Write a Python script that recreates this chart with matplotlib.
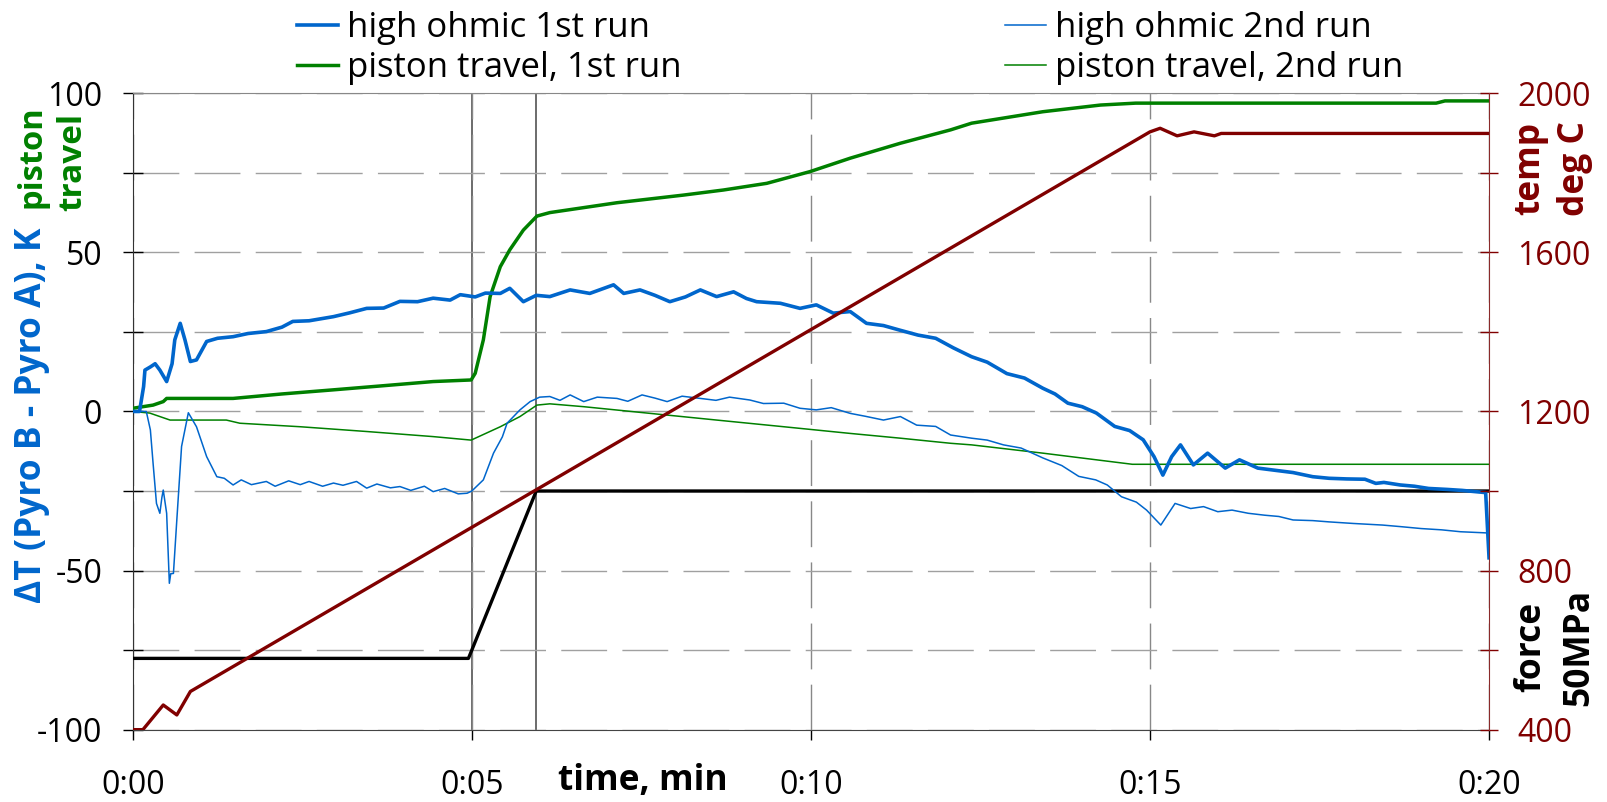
import numpy as np
import matplotlib
matplotlib.use("Agg")
import matplotlib.pyplot as plt

plt.rcParams['font.family'] = ['Open Sans', 'DejaVu Sans']
plt.rcParams['axes.unicode_minus'] = False

# time in minutes
hi1 = [(0, 0), (0.1, 0), (0.16, 7.8), (0.18, 13), (0.26, 14), (0.33, 15), (0.4, 13),
       (0.5, 9.4), (0.58, 15), (0.62, 22.5), (0.7, 27.7), (0.77, 22.5), (0.85, 15.7),
       (0.94, 16.2), (1.09, 22), (1.25, 23), (1.48, 23.5), (1.7, 24.5), (1.97, 25.1),
       (2.2, 26.5), (2.36, 28.3), (2.6, 28.5), (2.96, 29.8), (3.2, 31), (3.45, 32.4),
       (3.7, 32.5), (3.94, 34.6), (4.2, 34.5), (4.43, 35.6), (4.68, 35), (4.83, 36.7),
       (5.05, 36), (5.2, 37.2), (5.42, 37.1), (5.56, 38.7), (5.76, 34.5), (5.95, 36.5),
       (6.15, 36.1), (6.45, 38.2), (6.74, 37.1), (7.09, 39.8), (7.24, 37.1), (7.48, 38.2),
       (7.7, 36.5), (7.92, 34.5), (8.15, 36), (8.37, 38.2), (8.61, 36.1), (8.86, 37.6),
       (9.05, 35.5), (9.2, 34.5), (9.55, 34), (9.84, 32.4), (10.08, 33.5), (10.33, 30.9),
       (10.58, 31.4), (10.82, 27.7), (11.07, 27), (11.32, 25.5), (11.58, 24), (11.84, 23),
       (12.1, 20), (12.37, 17.2), (12.6, 15.5), (12.89, 11.9), (13.15, 10.5), (13.42, 7.3),
       (13.6, 5.5), (13.79, 2.6), (14.0, 1.5), (14.21, -0.5), (14.48, -4.7), (14.7, -6),
       (14.9, -8.9), (15.06, -14.2), (15.19, -20), (15.32, -14.2), (15.45, -10.5),
       (15.64, -16.8), (15.85, -13.1), (16.11, -17.8), (16.32, -15.2), (16.59, -17.8),
       (16.85, -18.5), (17.11, -19.2), (17.4, -20.5), (17.64, -21), (17.9, -21.2),
       (18.17, -21.3), (18.33, -22.6), (18.45, -22.3), (18.69, -23.1), (18.9, -23.5),
       (19.11, -24.2), (19.38, -24.5), (19.6, -24.8), (19.95, -25.5), (20.0, -46)]

hi2 = [(0, 0), (0.2, 0), (0.26, -5.8), (0.3, -16.3), (0.35, -28.9), (0.4, -32), (0.43, -27),
       (0.45, -24.7), (0.5, -32), (0.54, -54), (0.56, -51), (0.6, -50.9), (0.65, -34.1),
       (0.72, -11), (0.82, -0.4), (0.94, -4.8), (1.09, -14.2), (1.24, -20.5), (1.35, -21),
       (1.48, -23.1), (1.6, -21.5), (1.75, -23), (1.97, -22), (2.1, -23.5), (2.3, -21.8),
       (2.47, -23), (2.6, -22), (2.8, -23.5), (2.96, -22.5), (3.1, -23.2), (3.3, -22),
       (3.45, -24.1), (3.6, -22.8), (3.8, -24), (3.94, -23.6), (4.1, -24.8), (4.3, -23.5),
       (4.43, -25.2), (4.6, -24.2), (4.8, -25.9), (4.93, -25.7), (5.0, -25), (5.17, -21.5),
       (5.32, -13.1), (5.45, -8), (5.52, -3.7), (5.71, 0.5), (5.86, 3.1), (6.0, 4.5),
       (6.15, 4.7), (6.3, 3.5), (6.45, 5.2), (6.65, 3.1), (6.85, 4.5), (7.14, 4.1),
       (7.3, 3.2), (7.51, 5.2), (7.7, 4.2), (7.88, 3.1), (8.1, 4.8), (8.37, 4.1), (8.6, 3.5),
       (8.8, 4.5), (9.1, 3.6), (9.3, 2.5), (9.6, 2.6), (9.84, 1.0), (10.08, 0.5), (10.3, 1.2),
       (10.58, -0.6), (10.8, -1.5), (11.07, -2.7), (11.32, -1.6), (11.56, -4.3),
       (11.84, -4.7), (12.06, -7.4), (12.37, -8.4), (12.6, -9), (12.84, -10.5),
       (13.1, -11.5), (13.42, -14.6), (13.7, -17), (13.95, -20.4), (14.2, -21.5),
       (14.37, -23.1), (14.58, -26.8), (14.8, -28.5), (14.95, -31.0), (15.16, -35.7),
       (15.37, -28.9), (15.6, -30.5), (15.79, -29.9), (16.0, -31.5), (16.21, -31.0),
       (16.45, -32), (16.69, -32.6), (16.9, -33), (17.11, -34.1), (17.4, -34.3),
       (17.64, -34.7), (18.0, -35.2), (18.43, -35.7), (18.7, -36.2), (19.0, -36.8),
       (19.3, -37.2), (19.58, -37.8), (20.0, -38.2)]

piston1 = [(0, 1.0), (0.3, 2), (0.45, 3.1), (0.5, 4.1), (1.48, 4.1), (2.2, 5.5), (2.96, 6.8),
           (3.7, 8.1), (4.43, 9.4), (4.99, 9.9), (5.05, 12), (5.17, 22.5), (5.27, 36.1),
           (5.42, 45.5), (5.56, 50.8), (5.76, 57.0), (5.96, 61.4), (6.15, 62.5), (7.14, 65.6),
           (8.12, 68.0), (8.71, 69.6), (9.35, 71.7), (9.99, 75.4), (10.58, 79.6), (11.32, 84.3),
           (12.06, 88.5), (12.37, 90.6), (13.42, 94.2), (14.27, 96.3), (14.79, 96.9),
           (19.22, 96.9), (19.35, 97.6), (20, 97.6)]

piston2 = [(0, 0), (0.25, -0.5), (0.55, -2.7), (1.38, -2.7), (1.58, -3.7), (2.47, -4.8),
           (3.45, -6.3), (4.43, -7.9), (4.99, -9.0), (5.42, -4.8), (5.71, -1.6), (5.96, 2.0),
           (6.15, 2.4), (6.65, 1.5), (7.63, -0.6), (8.61, -2.7), (9.6, -4.8), (10.58, -6.9),
           (11.32, -8.4), (12.06, -10.0), (12.37, -10.5), (13.42, -13.1), (14.74, -16.6),
           (20, -16.6)]

force = [(0, -77.6), (4.95, -77.6), (5.0, -75), (5.95, -25), (20, -25)]

temp = [(0, 400), (0.15, 400), (0.45, 462), (0.65, 437), (0.85, 496), (15.0, 1903),
        (15.15, 1912), (15.4, 1893), (15.65, 1903), (15.95, 1893), (16.05, 1899), (20, 1899)]

markers_t = [5.0, 5.95]
xticks = [0, 5, 10, 15, 20]
xlabels = ["0:00", "0:05", "0:10", "0:15", "0:20"]

BLUE = '#0066CC'
GREEN = '#008000'
RED = '#800000'
FS = 23     # tick labels
LFS = 25.5  # axis titles

fig = plt.figure(figsize=(16.07, 8.02), dpi=100)
ax = fig.add_axes([0.0826, 0.0902, 0.8440, 0.7935])
ax2 = ax.twinx()

for t in markers_t:
    ax.axvline(t, color='#444444', lw=1.1, zorder=1)

t, v = np.array(force).T
ax.plot(t, v, color='black', lw=2.4, zorder=3)
t, v = np.array(piston2).T
l_pt2, = ax.plot(t, v, color=GREEN, lw=1.1, zorder=3, label='piston travel, 2nd run')
t, v = np.array(hi2).T
l_hi2, = ax.plot(t, v, color=BLUE, lw=1.1, zorder=3, label='high ohmic 2nd run')
t, v = np.array(piston1).T
l_pt1, = ax.plot(t, v, color=GREEN, lw=2.5, zorder=4, label='piston travel, 1st run')
t, v = np.array(hi1).T
l_hi1, = ax.plot(t, v, color=BLUE, lw=2.6, zorder=4, label='high ohmic 1st run')
t, v = np.array(temp).T
ax2.plot(t, v, color=RED, lw=2.4)

ax.set_xlim(0, 20)
ax.set_ylim(-100, 100)
ax2.set_ylim(400, 2000)

ax.set_xticks(xticks)
ax.set_xticklabels(xlabels)
ax.set_yticks([-100, -50, 0, 50, 100])
ax.set_yticks([-75, -25, 25, 75], minor=True)
ax2.set_yticks([400, 800, 1200, 1600, 2000])
ax2.set_yticks([600, 1000, 1400, 1800], minor=True)

ax.grid(axis='y', which='both', color='#a0a0a0', lw=1, linestyle=(0, (33, 11)))
ax.grid(axis='x', which='major', color='#888888', lw=1, linestyle=(0, (33, 11)))

ax.tick_params(axis='y', which='both', direction='inout', length=14, width=1, pad=15,
               labelsize=FS, colors='black')
ax.tick_params(axis='x', direction='out', length=7, width=1, pad=21, labelsize=FS)
ax2.tick_params(axis='y', which='both', direction='inout', length=13, width=1, pad=14,
                labelsize=FS, colors=RED)

ax.spines['top'].set_color('#888888')
ax.spines['left'].set_color('#333333')
ax.spines['bottom'].set_color('#444444')
ax.spines['right'].set_visible(False)
for s in ['left', 'top', 'bottom']:
    ax2.spines[s].set_visible(False)
ax2.spines['right'].set_color('#8a2a2a')

# axis titles
fig.text(32 / 1607, 1 - 105 / 802, 'piston', rotation=90, ha='center', va='top',
         color=GREEN, fontsize=23.5, fontweight='bold')
fig.text(32 / 1607, 1 - 603 / 802, 'ΔT (Pyro B - Pyro A), K', rotation=90, ha='center',
         va='bottom', color=BLUE, fontsize=LFS, fontweight='bold')
fig.text(73 / 1607, 1 - 113 / 802, 'travel', rotation=90, ha='center', va='top',
         color=GREEN, fontsize=24, fontweight='bold')
fig.text(1530 / 1607, 1 - 168 / 802, 'temp', rotation=90, ha='center', va='center',
         color=RED, fontsize=LFS, fontweight='bold')
fig.text(1575 / 1607, 1 - 168 / 802, 'deg C', rotation=90, ha='center', va='center',
         color=RED, fontsize=LFS, fontweight='bold')
fig.text(1531 / 1607, 1 - 647 / 802, 'force', rotation=90, ha='center', va='center',
         color='black', fontsize=LFS, fontweight='bold')
fig.text(1579 / 1607, 1 - 647 / 802, '50MPa', rotation=90, ha='center', va='center',
         color='black', fontsize=LFS, fontweight='bold')
fig.text(643 / 1607, 1 - 781 / 802, 'time, min', ha='center', va='center',
         color='black', fontsize=LFS, fontweight='bold')

fig.legend(handles=[l_hi1, l_pt1, l_hi2, l_pt2], ncol=2, loc='upper left',
           bbox_to_anchor=((297 - 11.5) / 1607, 1.0), frameon=False, fontsize=25,
           borderpad=0.33, borderaxespad=0, handlelength=1.18, handletextpad=0.26,
           columnspacing=9.32, labelspacing=0.15)

fig.savefig('out.png', dpi=100)
